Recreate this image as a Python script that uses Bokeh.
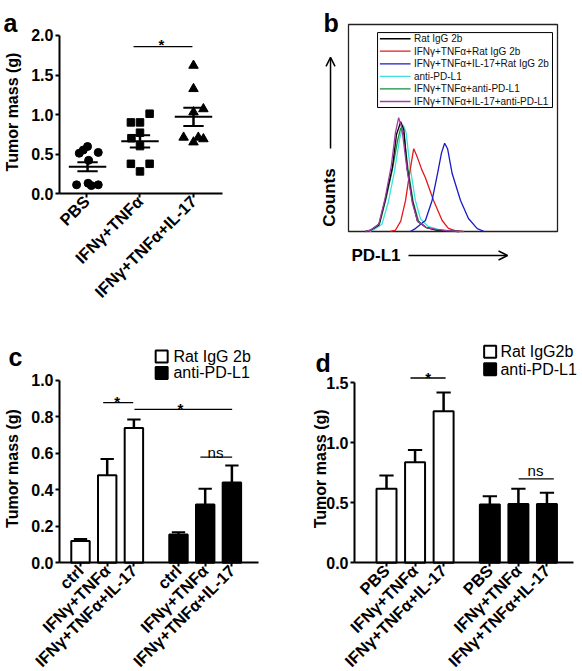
import math
from bokeh.plotting import figure
from bokeh.layouts import row, column
from bokeh.models import FixedTicker, Arrow, OpenHead, Range1d, NumeralTickFormatter
from bokeh.core.properties import value
from bokeh.embed import file_html
from bokeh.resources import INLINE

FONT = "Liberation Sans"

# ---------------- data ----------------
# panel a : individual tumour masses (g), jitter in category units
a_groups = ["PBS", "IFNγ+TNFα", "IFNγ+TNFα+IL-17"]
a_pbs = [0.595, 0.55, 0.51, 0.52, 0.42, 0.11, 0.13, 0.10, 0.11]
a_pbs_jit = [0.02, -0.06, -0.135, 0.22, 0.04, -0.185, 0.03, 0.09, 0.22]
a_ifn = [1.01, 0.90, 0.90, 0.77, 0.70, 0.60, 0.376, 0.376, 0.28]
a_ifn_jit = [0.18, -0.17, 0.0, 0.0, -0.16, 0.0, -0.17, 0.18, 0.0]
a_il17 = [1.62, 1.325, 1.07, 1.03, 0.71, 0.71, 0.69, 0.65]
a_il17_jit = [0.0, 0.0, 0.185, 0.0, -0.185, 0.09, 0.185, 0.0]
a_mean = [0.34, 0.66, 0.97]
a_sem = [0.057, 0.077, 0.115]

# panel b : flow cytometry histograms (PD-L1 intensity vs counts, arbitrary units)
b_labels = ["Rat IgG 2b", "IFNγ+TNFα+Rat IgG 2b", "IFNγ+TNFα+IL-17+Rat IgG 2b",
            "anti-PD-L1", "IFNγ+TNFα+anti-PD-L1", "IFNγ+TNFα+IL-17+anti-PD-L1"]
b_colors = ["#000000", "#e3191c", "#1a1ac8", "#40e0e0", "#138a3c", "#a43ca4"]
b_x_black = [8, 10.5, 14.5, 17.5, 21, 23, 25, 26.5, 28, 30.5, 33, 37, 41.5, 46, 53]
b_y_black = [0, 0.5, 3, 15, 31, 47, 53, 49, 31, 15, 5, 2, 0.8, 0.3, 0]
b_x_red = [20, 22.5, 25, 27.3, 29.2, 31.2, 32.5, 33.6, 35, 36.8, 40.7, 44.8, 47.8, 51, 55]
b_y_red = [0, 0.7, 5, 15, 28, 40, 37, 34, 30, 26, 15, 5.3, 1.5, 0.4, 0]
b_x_blue = [29.5, 32, 36.8, 40, 42.6, 44.5, 46, 47.4, 49.6, 53.6, 57.4, 61.6, 65]
b_y_blue = [0, 1.4, 5.3, 15, 28, 38, 42.6, 40, 28, 15, 6.3, 1.4, 0]
b_x_cyan = [10, 12, 16, 19, 22, 24.5, 26.2, 27.5, 29.5, 32, 34.5, 38, 43, 48, 55]
b_y_cyan = [0, 0.8, 3.5, 14, 29, 45, 51.5, 48, 31, 15, 6, 2.5, 1, 0.4, 0]
b_x_green = [9, 11, 15, 18, 21, 23.5, 25, 26.5, 28.5, 31, 33.5, 37, 42, 47, 53]
b_y_green = [0, 1, 4, 16, 30, 44, 50, 47, 30, 14, 5, 2, 0.8, 0.3, 0]
b_x_purple = [8, 10.5, 14.5, 17.5, 20.5, 22.5, 24, 25.5, 28, 30.5, 33, 37, 42, 47, 54]
b_y_purple = [0, 0.6, 3.5, 16, 32, 48, 55, 50, 30, 14, 5, 2, 1, 0.4, 0]

# panel c
c_labels = ["ctrl", "IFNγ+TNFα", "IFNγ+TNFα+IL-17"]
c_pos_rat = [0, 1, 2]
c_pos_anti = [3.67, 4.67, 5.67]
c_rat = [0.12, 0.48, 0.74]
c_rat_err = [0.01, 0.09, 0.046]
c_anti = [0.155, 0.32, 0.44]
c_anti_err = [0.013, 0.086, 0.094]

# panel d
d_labels = ["PBS", "IFNγ+TNFα", "IFNγ+TNFα+IL-17"]
d_pos_rat = [0, 1, 2]
d_pos_anti = [3.62, 4.62, 5.62]
d_rat = [0.617, 0.838, 1.263]
d_rat_err = [0.111, 0.102, 0.157]
d_anti = [0.485, 0.49, 0.49]
d_anti_err = [0.07, 0.127, 0.093]


def new_fig(w, h, xr, yr):
    p = figure(width=w, height=h, x_range=Range1d(*xr), y_range=Range1d(*yr),
               output_backend="svg", toolbar_location=None, min_border=0,
               min_border_left=0, min_border_right=0, min_border_top=0, min_border_bottom=0)
    p.xgrid.visible = False
    p.ygrid.visible = False
    p.outline_line_color = None
    p.background_fill_color = "white"
    p.border_fill_color = "white"
    return p


def style_axes(p, y_loc, x_bounds, y_bounds, yticks):
    for ax in (p.xaxis[0], p.yaxis[0]):
        ax.axis_line_width = 2
        ax.axis_line_color = "black"
        ax.major_tick_line_width = 2
        ax.major_tick_line_color = "black"
        ax.major_tick_out = 4
        ax.major_tick_in = 0
        ax.minor_tick_out = 0
        ax.minor_tick_in = 0
        ax.major_label_text_font = FONT
        ax.major_label_text_font_style = "bold"
        ax.major_label_text_color = "black"
        ax.major_label_standoff = 2
    p.yaxis[0].major_label_text_font_size = "16px"
    p.xaxis[0].major_label_text_font_size = "16.5px"
    p.xaxis[0].major_label_orientation = math.pi / 4
    p.xaxis[0].major_label_standoff = 1
    p.xaxis[0].fixed_location = 0
    p.yaxis[0].fixed_location = y_loc
    p.xaxis[0].bounds = x_bounds
    p.yaxis[0].bounds = y_bounds
    p.yaxis[0].ticker = FixedTicker(ticks=yticks)
    p.yaxis[0].formatter = NumeralTickFormatter(format="0.0")


def add_text(p, x, y, text, size, bold=True, align="center", baseline="alphabetic", angle=0.0):
    p.text(x=[x], y=[y], text=[text], text_font=value(FONT), text_font_size=size,
           text_font_style="bold" if bold else "normal", text_align=align,
           text_baseline=baseline, text_color="black", angle=angle)


# ---------------- panel a ----------------
pa = new_fig(290, 330, (-1.607, 3.813), (-1.734, 2.443))
style_axes(pa, -0.505, (-0.505, 2.54), (0, 2), [0, 0.5, 1.0, 1.5, 2.0])
pa.xaxis.ticker = FixedTicker(ticks=[0, 1, 2])
pa.xaxis.major_label_overrides = {0: a_groups[0], 1: a_groups[1], 2: a_groups[2]}

pa.scatter([0 + j for j in a_pbs_jit], a_pbs, marker="circle", size=8, color="black")
pa.scatter([1 + j for j in a_ifn_jit], a_ifn, marker="square", size=7.5, color="black")
pa.scatter([2 + j for j in a_il17_jit], a_il17, marker="triangle", size=9.5, color="black")
cats = [0.02, 1.0, 2.0]
pa.segment(x0=[c - 0.35 for c in cats], y0=a_mean, x1=[c + 0.35 for c in cats], y1=a_mean,
           line_color="black", line_width=2)
lo = [m - s for m, s in zip(a_mean, a_sem)]
hi = [m + s for m, s in zip(a_mean, a_sem)]
pa.segment(x0=cats, y0=lo, x1=cats, y1=hi, line_color="black", line_width=2.5)
pa.segment(x0=[c - 0.19 for c in cats], y0=lo, x1=[c + 0.19 for c in cats], y1=lo,
           line_color="black", line_width=2)
pa.segment(x0=[c - 0.19 for c in cats], y0=hi, x1=[c + 0.19 for c in cats], y1=hi,
           line_color="black", line_width=2)
pa.segment(x0=[0.88], y0=[1.86], x1=[1.98], y1=[1.86], line_color="black", line_width=1.3)
add_text(pa, 1.40, 1.885, "*", "15px")
add_text(pa, -1.383, 1.032, "Tumor mass (g)", "16px", align="center", baseline="middle",
         angle=math.pi / 2)
add_text(pa, -1.551, 2.152, "a", "25px", align="left")

# ---------------- panel b ----------------
pb = new_fig(292, 330, (-27.75, 111.96), (-47.83, 111.59))
pb.axis.visible = False
pb.quad(left=[0], right=[100], bottom=[0], top=[100], fill_color=None,
        line_color="#222222", line_width=1.3)
curves = [(b_x_cyan, b_y_cyan, b_colors[3]), (b_x_red, b_y_red, b_colors[1]),
          (b_x_blue, b_y_blue, b_colors[2]), (b_x_green, b_y_green, b_colors[4]),
          (b_x_black, b_y_black, b_colors[0]), (b_x_purple, b_y_purple, b_colors[5])]
for xs, ys, col in curves:
    pb.line(xs, ys, line_color=col, line_width=1.3)
pb.quad(left=[13.9], right=[97.6], bottom=[59.9], top=[96.1], fill_color="white",
        line_color="black", line_width=1)
leg_y = [93.1, 87.1, 81.0, 74.9, 68.9, 62.8]
pb.segment(x0=[15] * 6, y0=leg_y, x1=[29.7] * 6, y1=leg_y, line_color=b_colors, line_width=1.3)
pb.text(x=[31.3] * 6, y=leg_y, text=b_labels, text_font=value(FONT), text_font_size="10px",
        text_baseline="middle", text_align="left", text_color="#111111")
add_text(pb, -9.3, 16.4, "Counts", "17px", align="center", baseline="middle", angle=math.pi / 2)
add_text(pb, 1.4, -11.6, "PD-L1", "17px", align="left", baseline="middle")
pb.add_layout(Arrow(end=OpenHead(size=9, line_width=1.5, line_color="black"),
                    x_start=-8.6, y_start=40.1, x_end=-8.6, y_end=84.1,
                    line_width=1.5, line_color="black"))
pb.add_layout(Arrow(end=OpenHead(size=9, line_width=1.5, line_color="black"),
                    x_start=28.7, y_start=-11.6, x_end=76.1, y_end=-11.6,
                    line_width=1.5, line_color="black"))
add_text(pb, -11.96, 100.5, "b", "25px", align="left")


# ---------------- bar panels ----------------
def bar_panel(w, h, xr, yr, y_loc, xbounds, ybounds, yticks, pos_rat, pos_anti,
              labels, rat, rat_err, anti, anti_err, bw, cap):
    p = new_fig(w, h, xr, yr)
    style_axes(p, y_loc, xbounds, ybounds, yticks)
    ticks = list(pos_rat) + list(pos_anti)
    p.xaxis.ticker = FixedTicker(ticks=ticks)
    p.xaxis.major_label_overrides = {t: l for t, l in zip(ticks, list(labels) * 2)}
    for pos, vals, errs, fill in ((pos_rat, rat, rat_err, "white"), (pos_anti, anti, anti_err, "black")):
        tops = [v + e for v, e in zip(vals, errs)]
        p.segment(x0=pos, y0=vals, x1=pos, y1=tops, line_color="black", line_width=2.5)
        p.segment(x0=[x - cap for x in pos], y0=tops, x1=[x + cap for x in pos], y1=tops,
                  line_color="black", line_width=2)
        p.vbar(x=pos, top=vals, bottom=0, width=bw, fill_color=fill, line_color="black",
               line_width=2)
    return p


pc = bar_panel(290, 341, (-2.996, 7.865), (-0.596, 1.274), -0.787, (-0.787, 6.667), (0, 1),
               [0, 0.2, 0.4, 0.6, 0.8, 1.0], c_pos_rat, c_pos_anti, c_labels,
               c_rat, c_rat_err, c_anti, c_anti_err, 0.69, 0.25)
pc.segment(x0=[0.85, 2.02, 4.49], y0=[0.878, 0.841, 0.58], x1=[1.974, 5.68, 5.68],
           y1=[0.878, 0.841, 0.58], line_color="black", line_width=1.3)
add_text(pc, 1.375, 0.884, "*", "15px")
add_text(pc, 3.745, 0.847, "*", "15px")
add_text(pc, 5.056, 0.606, "ns", "15px", bold=False)
pc.scatter([3.04, 3.04], [1.132, 1.041], marker="square", size=12, fill_color=["white", "black"],
           line_color="black", line_width=2)
pc.text(x=[3.48, 3.48], y=[1.132, 1.041], text=["Rat IgG 2b", "anti-PD-L1"], text_font=value(FONT),
        text_font_size="16px", text_baseline="middle", text_align="left", text_color="black")
add_text(pc, -2.547, 0.517, "Tumor mass (g)", "16px", align="center", baseline="middle",
         angle=math.pi / 2)
add_text(pc, -2.697, 1.126, "c", "25px", align="left")

pd_ = bar_panel(292, 341, (-3.363, 6.865), (-0.906, 1.936), -1.121, (-1.121, 6.54), (0, 1.5),
                [0, 0.5, 1.0, 1.5], d_pos_rat, d_pos_anti, d_labels,
                d_rat, d_rat_err, d_anti, d_anti_err, 0.70, 0.25)
pd_.segment(x0=[0.84, 4.63], y0=[1.54, 0.70], x1=[2.07, 5.86], y1=[1.54, 0.70],
            line_color="black", line_width=1.3)
add_text(pd_, 1.46, 1.548, "*", "15px")
add_text(pd_, 5.22, 0.77, "ns", "15px", bold=False)
pd_.scatter([3.63, 3.63], [1.758, 1.614], marker="square", size=12, fill_color=["white", "black"],
            line_color="black", line_width=2)
pd_.text(x=[3.99, 3.99], y=[1.758, 1.614], text=["Rat IgG2b", "anti-PD-L1"], text_font=value(FONT),
         text_font_size="16px", text_baseline="middle", text_align="left", text_color="black")
add_text(pd_, -2.31, 0.783, "Tumor mass (g)", "16px", align="center", baseline="middle",
         angle=math.pi / 2)
add_text(pd_, -2.487, 1.669, "d", "25px", align="left")

layout = column(row(pa, pb), row(pc, pd_))
open("out.html", "w").write(file_html(layout, INLINE))
